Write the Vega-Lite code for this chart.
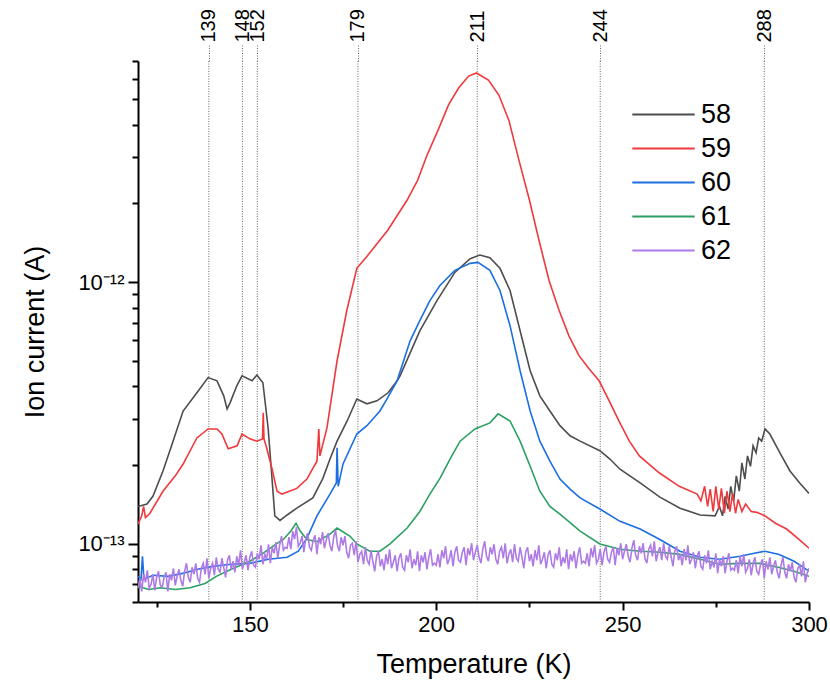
{
"$schema": "https://vega.github.io/schema/vega-lite/v6.json",
"width": 671, "height": 541,
"autosize": {"type": "none"},
"padding": {"left": 138, "top": 61, "right": 21, "bottom": 86},
"config": {"view": {"stroke": null}, "font": "Liberation Sans", "axis": {"ticks": true}},
"datasets": {
"peaks": [{"T":139},{"T":148},{"T":152},{"T":179},{"T":211},{"T":244},{"T":288}],
"ms": [
{"s":"58","T":120,"I":1.39e-13},{"s":"58","T":122.4,"I":1.42e-13},{"s":"58","T":124,"I":1.52e-13},{"s":"58","T":126.7,"I":1.90e-13},{"s":"58","T":129,"I":2.37e-13},{"s":"58","T":132.1,"I":3.22e-13},{"s":"58","T":135.8,"I":3.78e-13},{"s":"58","T":138.8,"I":4.32e-13},{"s":"58","T":141.2,"I":4.20e-13},{"s":"58","T":143,"I":3.68e-13},{"s":"58","T":143.9,"I":3.28e-13},{"s":"58","T":144.7,"I":3.46e-13},{"s":"58","T":146.5,"I":4.02e-13},{"s":"58","T":147.9,"I":4.39e-13},{"s":"58","T":150.6,"I":4.20e-13},{"s":"58","T":151.9,"I":4.42e-13},{"s":"58","T":153.5,"I":4.13e-13},{"s":"58","T":154.9,"I":2.78e-13},{"s":"58","T":156,"I":1.74e-13},{"s":"58","T":156.7,"I":1.28e-13},{"s":"58","T":158.1,"I":1.23e-13},{"s":"58","T":160,"I":1.29e-13},{"s":"58","T":162.6,"I":1.37e-13},{"s":"58","T":166.9,"I":1.50e-13},{"s":"58","T":169.6,"I":1.78e-13},{"s":"58","T":171.5,"I":2.11e-13},{"s":"58","T":173.4,"I":2.47e-13},{"s":"58","T":176.1,"I":2.95e-13},{"s":"58","T":178.7,"I":3.58e-13},{"s":"58","T":181.4,"I":3.43e-13},{"s":"58","T":184.1,"I":3.52e-13},{"s":"58","T":187.1,"I":3.78e-13},{"s":"58","T":189.5,"I":4.20e-13},{"s":"58","T":190.3,"I":4.39e-13},{"s":"58","T":195.6,"I":6.52e-13},{"s":"58","T":200.2,"I":8.50e-13},{"s":"58","T":205,"I":1.09e-12},{"s":"58","T":209.1,"I":1.23e-12},{"s":"58","T":211.7,"I":1.27e-12},{"s":"58","T":214.4,"I":1.24e-12},{"s":"58","T":217.1,"I":1.13e-12},{"s":"58","T":219.8,"I":9.30e-13},{"s":"58","T":222.5,"I":6.52e-13},{"s":"58","T":225.2,"I":4.59e-13},{"s":"58","T":227.8,"I":3.68e-13},{"s":"58","T":230.5,"I":3.22e-13},{"s":"58","T":233.2,"I":2.83e-13},{"s":"58","T":235.9,"I":2.59e-13},{"s":"58","T":238.6,"I":2.47e-13},{"s":"58","T":243.9,"I":2.27e-13},{"s":"58","T":246.6,"I":2.11e-13},{"s":"58","T":249.3,"I":1.93e-13},{"s":"58","T":254.7,"I":1.71e-13},{"s":"58","T":260,"I":1.51e-13},{"s":"58","T":265.4,"I":1.37e-13},{"s":"58","T":270.8,"I":1.29e-13},{"s":"58","T":274.8,"I":1.28e-13},{"s":"58","T":276,"I":1.39e-13},{"s":"58","T":276.8,"I":1.28e-13},{"s":"58","T":277.5,"I":1.52e-13},{"s":"58","T":278.3,"I":1.36e-13},{"s":"58","T":279,"I":1.66e-13},{"s":"58","T":279.8,"I":1.46e-13},{"s":"58","T":280.5,"I":1.82e-13},{"s":"58","T":281.3,"I":1.59e-13},{"s":"58","T":282,"I":2.04e-13},{"s":"58","T":282.8,"I":1.77e-13},{"s":"58","T":283.5,"I":2.17e-13},{"s":"58","T":284.3,"I":1.98e-13},{"s":"58","T":285,"I":2.37e-13},{"s":"58","T":285.8,"I":2.23e-13},{"s":"58","T":286.5,"I":2.54e-13},{"s":"58","T":287.3,"I":2.47e-13},{"s":"58","T":288.2,"I":2.75e-13},{"s":"58","T":289.5,"I":2.63e-13},{"s":"58","T":292.2,"I":2.23e-13},{"s":"58","T":294.9,"I":1.90e-13},{"s":"58","T":297.5,"I":1.71e-13},{"s":"58","T":300,"I":1.56e-13},
{"s":"59","T":120,"I":1.19e-13},{"s":"59","T":121,"I":1.28e-13},{"s":"59","T":121.5,"I":1.39e-13},{"s":"59","T":122,"I":1.26e-13},{"s":"59","T":123.2,"I":1.31e-13},{"s":"59","T":126.7,"I":1.59e-13},{"s":"59","T":130,"I":1.82e-13},{"s":"59","T":132.1,"I":2.02e-13},{"s":"59","T":135.8,"I":2.54e-13},{"s":"59","T":138.8,"I":2.75e-13},{"s":"59","T":141.2,"I":2.75e-13},{"s":"59","T":142.5,"I":2.63e-13},{"s":"59","T":144.2,"I":2.31e-13},{"s":"59","T":146.6,"I":2.37e-13},{"s":"59","T":147.9,"I":2.63e-13},{"s":"59","T":150,"I":2.52e-13},{"s":"59","T":151.9,"I":2.47e-13},{"s":"59","T":153.4,"I":2.52e-13},{"s":"59","T":153.6,"I":3.17e-13},{"s":"59","T":153.8,"I":2.52e-13},{"s":"59","T":154.5,"I":2.33e-13},{"s":"59","T":155.9,"I":1.95e-13},{"s":"59","T":157.3,"I":1.59e-13},{"s":"59","T":158.6,"I":1.55e-13},{"s":"59","T":162.6,"I":1.63e-13},{"s":"59","T":165.3,"I":1.77e-13},{"s":"59","T":168,"I":2.07e-13},{"s":"59","T":168.5,"I":2.75e-13},{"s":"59","T":168.8,"I":2.17e-13},{"s":"59","T":170.7,"I":2.78e-13},{"s":"59","T":173.4,"I":5.01e-13},{"s":"59","T":176,"I":7.78e-13},{"s":"59","T":178.7,"I":1.13e-12},{"s":"59","T":181.5,"I":1.26e-12},{"s":"59","T":187,"I":1.58e-12},{"s":"59","T":192.2,"I":2.06e-12},{"s":"59","T":195,"I":2.45e-12},{"s":"59","T":197.5,"I":3.05e-12},{"s":"59","T":200.5,"I":3.81e-12},{"s":"59","T":203.3,"I":4.76e-12},{"s":"59","T":206,"I":5.52e-12},{"s":"59","T":208.7,"I":6.13e-12},{"s":"59","T":210.8,"I":6.30e-12},{"s":"59","T":214,"I":5.92e-12},{"s":"59","T":216.8,"I":5.19e-12},{"s":"59","T":219.5,"I":4.15e-12},{"s":"59","T":222.2,"I":2.92e-12},{"s":"59","T":225,"I":2.06e-12},{"s":"59","T":227.6,"I":1.44e-12},{"s":"59","T":230.3,"I":1.01e-12},{"s":"59","T":233,"I":7.78e-13},{"s":"59","T":235.6,"I":6.24e-13},{"s":"59","T":238.3,"I":5.24e-13},{"s":"59","T":241,"I":4.67e-13},{"s":"59","T":243.7,"I":4.20e-13},{"s":"59","T":246.4,"I":3.52e-13},{"s":"59","T":249,"I":2.95e-13},{"s":"59","T":251.8,"I":2.47e-13},{"s":"59","T":254.5,"I":2.17e-13},{"s":"59","T":259.8,"I":1.87e-13},{"s":"59","T":265.2,"I":1.66e-13},{"s":"59","T":270,"I":1.55e-13},{"s":"59","T":271,"I":1.46e-13},{"s":"59","T":272,"I":1.66e-13},{"s":"59","T":272.8,"I":1.39e-13},{"s":"59","T":273.5,"I":1.62e-13},{"s":"59","T":274.3,"I":1.33e-13},{"s":"59","T":275,"I":1.66e-13},{"s":"59","T":275.8,"I":1.36e-13},{"s":"59","T":276.5,"I":1.63e-13},{"s":"59","T":277.3,"I":1.31e-13},{"s":"59","T":278,"I":1.59e-13},{"s":"59","T":278.8,"I":1.33e-13},{"s":"59","T":279.5,"I":1.56e-13},{"s":"59","T":280.3,"I":1.31e-13},{"s":"59","T":281,"I":1.48e-13},{"s":"59","T":282,"I":1.33e-13},{"s":"59","T":283,"I":1.42e-13},{"s":"59","T":284.5,"I":1.33e-13},{"s":"59","T":286,"I":1.32e-13},{"s":"59","T":288.2,"I":1.28e-13},{"s":"59","T":291,"I":1.20e-13},{"s":"59","T":294,"I":1.14e-13},{"s":"59","T":297,"I":1.05e-13},{"s":"59","T":300,"I":9.63e-14},
{"s":"60","T":120,"I":7.52e-14},{"s":"60","T":120.8,"I":7.32e-14},{"s":"60","T":121.2,"I":8.97e-14},{"s":"60","T":121.6,"I":7.32e-14},{"s":"60","T":124,"I":7.59e-14},{"s":"60","T":128,"I":7.52e-14},{"s":"60","T":132,"I":7.72e-14},{"s":"60","T":136,"I":8.0e-14},{"s":"60","T":140,"I":8.21e-14},{"s":"60","T":145,"I":8.36e-14},{"s":"60","T":150,"I":8.43e-14},{"s":"60","T":155,"I":8.74e-14},{"s":"60","T":160,"I":8.9e-14},{"s":"60","T":163,"I":9.38e-14},{"s":"60","T":165.3,"I":1.05e-13},{"s":"60","T":168,"I":1.28e-13},{"s":"60","T":171.5,"I":1.55e-13},{"s":"60","T":173.2,"I":1.71e-13},{"s":"60","T":173.4,"I":2.33e-13},{"s":"60","T":173.7,"I":1.66e-13},{"s":"60","T":175,"I":2.02e-13},{"s":"60","T":178.7,"I":2.63e-13},{"s":"60","T":181.4,"I":2.83e-13},{"s":"60","T":184.9,"I":3.22e-13},{"s":"60","T":186.8,"I":3.58e-13},{"s":"60","T":189.5,"I":4.20e-13},{"s":"60","T":193,"I":5.97e-13},{"s":"60","T":195.6,"I":7.13e-13},{"s":"60","T":198.3,"I":8.50e-13},{"s":"60","T":201,"I":9.71e-13},{"s":"60","T":205,"I":1.11e-12},{"s":"60","T":209.1,"I":1.18e-12},{"s":"60","T":211.2,"I":1.19e-12},{"s":"60","T":214.4,"I":1.11e-12},{"s":"60","T":217.1,"I":9.30e-13},{"s":"60","T":219.8,"I":6.82e-13},{"s":"60","T":222.5,"I":4.59e-13},{"s":"60","T":225.2,"I":3.22e-13},{"s":"60","T":227.8,"I":2.47e-13},{"s":"60","T":230.5,"I":2.07e-13},{"s":"60","T":233.2,"I":1.77e-13},{"s":"60","T":235.9,"I":1.62e-13},{"s":"60","T":238.6,"I":1.50e-13},{"s":"60","T":243.9,"I":1.36e-13},{"s":"60","T":249.3,"I":1.22e-13},{"s":"60","T":254.7,"I":1.14e-13},{"s":"60","T":260,"I":1.04e-13},{"s":"60","T":265.4,"I":9.38e-14},{"s":"60","T":270.8,"I":8.90e-14},{"s":"60","T":276,"I":8.74e-14},{"s":"60","T":281.5,"I":8.97e-14},{"s":"60","T":285,"I":9.2e-14},{"s":"60","T":288.2,"I":9.38e-14},{"s":"60","T":292,"I":9.12e-14},{"s":"60","T":296,"I":8.59e-14},{"s":"60","T":300,"I":7.87e-14},
{"s":"61","T":120,"I":6.88e-14},{"s":"61","T":123,"I":6.70e-14},{"s":"61","T":126,"I":6.8e-14},{"s":"61","T":130,"I":6.7e-14},{"s":"61","T":134,"I":6.8e-14},{"s":"61","T":138,"I":7.06e-14},{"s":"61","T":141,"I":7.52e-14},{"s":"61","T":145,"I":8.0e-14},{"s":"61","T":150,"I":8.59e-14},{"s":"61","T":153.5,"I":9.2e-14},{"s":"61","T":155,"I":9.54e-14},{"s":"61","T":157,"I":9.98e-14},{"s":"61","T":159,"I":1.04e-13},{"s":"61","T":161,"I":1.12e-13},{"s":"61","T":162.4,"I":1.20e-13},{"s":"61","T":163.5,"I":1.12e-13},{"s":"61","T":165.3,"I":1.04e-13},{"s":"61","T":168,"I":1.02e-13},{"s":"61","T":171.5,"I":1.09e-13},{"s":"61","T":173.4,"I":1.15e-13},{"s":"61","T":176.9,"I":1.07e-13},{"s":"61","T":178.7,"I":1.0e-13},{"s":"61","T":182.2,"I":9.38e-14},{"s":"61","T":184.9,"I":9.38e-14},{"s":"61","T":187.6,"I":1.0e-13},{"s":"61","T":192.2,"I":1.15e-13},{"s":"61","T":195.6,"I":1.33e-13},{"s":"61","T":198.3,"I":1.55e-13},{"s":"61","T":201,"I":1.78e-13},{"s":"61","T":203.7,"I":2.11e-13},{"s":"61","T":206.4,"I":2.47e-13},{"s":"61","T":210.4,"I":2.75e-13},{"s":"61","T":214.4,"I":2.90e-13},{"s":"61","T":216.6,"I":3.14e-13},{"s":"61","T":219.8,"I":2.95e-13},{"s":"61","T":222.5,"I":2.47e-13},{"s":"61","T":225.2,"I":1.98e-13},{"s":"61","T":227.8,"I":1.59e-13},{"s":"61","T":230.5,"I":1.39e-13},{"s":"61","T":233.2,"I":1.30e-13},{"s":"61","T":238.6,"I":1.12e-13},{"s":"61","T":243.9,"I":1.0e-13},{"s":"61","T":249.3,"I":9.54e-14},{"s":"61","T":254.7,"I":9.38e-14},{"s":"61","T":260,"I":9.3e-14},{"s":"61","T":265.4,"I":9.12e-14},{"s":"61","T":270.8,"I":8.74e-14},{"s":"61","T":276,"I":8.36e-14},{"s":"61","T":281.5,"I":8.43e-14},{"s":"61","T":286.8,"I":8.43e-14},{"s":"61","T":292,"I":8.13e-14},{"s":"61","T":296,"I":7.87e-14},{"s":"61","T":300,"I":7.52e-14},
{"s":"62","T":120,"I":6.768e-14},{"s":"62","T":120.5,"I":7.392e-14},{"s":"62","T":121,"I":6.592e-14},{"s":"62","T":121.5,"I":7.657e-14},{"s":"62","T":122,"I":7.136e-14},{"s":"62","T":122.5,"I":7.932e-14},{"s":"62","T":123,"I":6.768e-14},{"s":"62","T":123.5,"I":7.011e-14},{"s":"62","T":124,"I":7.657e-14},{"s":"62","T":124.5,"I":6.650e-14},{"s":"62","T":125,"I":7.457e-14},{"s":"62","T":125.5,"I":7.862e-14},{"s":"62","T":126,"I":6.950e-14},{"s":"62","T":126.5,"I":6.828e-14},{"s":"62","T":127,"I":7.457e-14},{"s":"62","T":127.5,"I":7.793e-14},{"s":"62","T":128,"I":6.592e-14},{"s":"62","T":128.5,"I":7.657e-14},{"s":"62","T":129,"I":7.263e-14},{"s":"62","T":129.5,"I":8.073e-14},
{"s":"62","T":130,"I":6.950e-14},{"s":"62","T":130.5,"I":7.523e-14},{"s":"62","T":131,"I":8.002e-14},{"s":"62","T":131.5,"I":7.263e-14},{"s":"62","T":132,"I":6.889e-14},{"s":"62","T":132.5,"I":7.862e-14},{"s":"62","T":133,"I":8.436e-14},{"s":"62","T":133.5,"I":7.457e-14},{"s":"62","T":134,"I":7.136e-14},{"s":"62","T":134.5,"I":8.144e-14},{"s":"62","T":135,"I":7.657e-14},{"s":"62","T":135.5,"I":8.436e-14},{"s":"62","T":136,"I":7.392e-14},{"s":"62","T":136.5,"I":7.136e-14},{"s":"62","T":137,"I":8.073e-14},{"s":"62","T":137.5,"I":8.436e-14},{"s":"62","T":138,"I":7.657e-14},{"s":"62","T":138.5,"I":8.816e-14},{"s":"62","T":139,"I":7.392e-14},{"s":"62","T":139.5,"I":8.073e-14},
{"s":"62","T":140,"I":8.436e-14},{"s":"62","T":140.5,"I":7.590e-14},{"s":"62","T":141,"I":8.894e-14},{"s":"62","T":141.5,"I":8.002e-14},{"s":"62","T":142,"I":7.793e-14},{"s":"62","T":142.5,"I":8.816e-14},{"s":"62","T":143,"I":8.144e-14},{"s":"62","T":143.5,"I":7.457e-14},{"s":"62","T":144,"I":8.662e-14},{"s":"62","T":144.5,"I":9.053e-14},{"s":"62","T":145,"I":8.002e-14},{"s":"62","T":145.5,"I":8.586e-14},{"s":"62","T":146,"I":7.793e-14},{"s":"62","T":146.5,"I":8.973e-14},{"s":"62","T":147,"I":8.289e-14},{"s":"62","T":147.5,"I":9.460e-14},{"s":"62","T":148,"I":8.002e-14},{"s":"62","T":148.5,"I":8.511e-14},{"s":"62","T":149,"I":9.053e-14},{"s":"62","T":149.5,"I":7.932e-14},
{"s":"62","T":150,"I":8.894e-14},{"s":"62","T":150.5,"I":9.377e-14},{"s":"62","T":151,"I":8.289e-14},{"s":"62","T":151.5,"I":8.144e-14},{"s":"62","T":152,"I":9.214e-14},{"s":"62","T":152.5,"I":8.739e-14},{"s":"62","T":153,"I":9.886e-14},{"s":"62","T":153.5,"I":8.362e-14},{"s":"62","T":154,"I":9.133e-14},{"s":"62","T":154.5,"I":8.739e-14},{"s":"62","T":155,"I":9.974e-14},{"s":"62","T":155.5,"I":8.436e-14},{"s":"62","T":156,"I":9.714e-14},{"s":"62","T":156.5,"I":9.214e-14},{"s":"62","T":157,"I":1.0151e-13},{"s":"62","T":157.5,"I":8.816e-14},{"s":"62","T":158,"I":9.886e-14},{"s":"62","T":158.5,"I":1.0703e-13},{"s":"62","T":159,"I":9.460e-14},{"s":"62","T":159.5,"I":9.714e-14},
{"s":"62","T":160,"I":9.629e-14},{"s":"62","T":160.5,"I":1.0609e-13},{"s":"62","T":161,"I":9.544e-14},{"s":"62","T":161.5,"I":1.1185e-13},{"s":"62","T":162,"I":1.0424e-13},{"s":"62","T":162.5,"I":1.1588e-13},{"s":"62","T":163,"I":9.799e-14},{"s":"62","T":163.5,"I":1.0062e-13},{"s":"62","T":164,"I":1.0703e-13},{"s":"62","T":164.5,"I":9.295e-14},{"s":"62","T":165,"I":1.0424e-13},{"s":"62","T":165.5,"I":1.0990e-13},{"s":"62","T":166,"I":9.714e-14},{"s":"62","T":166.5,"I":9.460e-14},{"s":"62","T":167,"I":1.0332e-13},{"s":"62","T":167.5,"I":1.0798e-13},{"s":"62","T":168,"I":9.133e-14},{"s":"62","T":168.5,"I":1.0609e-13},{"s":"62","T":169,"I":9.974e-14},{"s":"62","T":169.5,"I":1.1087e-13},
{"s":"62","T":170,"I":9.629e-14},{"s":"62","T":170.5,"I":1.0332e-13},{"s":"62","T":171,"I":1.0990e-13},{"s":"62","T":171.5,"I":9.886e-14},{"s":"62","T":172,"I":9.377e-14},{"s":"62","T":172.5,"I":1.0609e-13},{"s":"62","T":173,"I":1.1284e-13},{"s":"62","T":173.5,"I":9.886e-14},{"s":"62","T":174,"I":9.377e-14},{"s":"62","T":174.5,"I":1.0609e-13},{"s":"62","T":175,"I":9.886e-14},{"s":"62","T":175.5,"I":1.0703e-13},{"s":"62","T":176,"I":9.295e-14},{"s":"62","T":176.5,"I":8.816e-14},{"s":"62","T":177,"I":9.886e-14},{"s":"62","T":177.5,"I":1.0062e-13},{"s":"62","T":178,"I":9.053e-14},{"s":"62","T":178.5,"I":1.0241e-13},{"s":"62","T":179,"I":8.511e-14},{"s":"62","T":179.5,"I":9.133e-14},
{"s":"62","T":180,"I":9.377e-14},{"s":"62","T":180.5,"I":8.362e-14},{"s":"62","T":181,"I":9.714e-14},{"s":"62","T":181.5,"I":8.662e-14},{"s":"62","T":182,"I":8.362e-14},{"s":"62","T":182.5,"I":9.460e-14},{"s":"62","T":183,"I":8.586e-14},{"s":"62","T":183.5,"I":7.862e-14},{"s":"62","T":184,"I":8.973e-14},{"s":"62","T":184.5,"I":9.377e-14},{"s":"62","T":185,"I":8.216e-14},{"s":"62","T":185.5,"I":8.739e-14},{"s":"62","T":186,"I":7.932e-14},{"s":"62","T":186.5,"I":9.133e-14},{"s":"62","T":187,"I":8.362e-14},{"s":"62","T":187.5,"I":9.544e-14},{"s":"62","T":188,"I":8.073e-14},{"s":"62","T":188.5,"I":8.511e-14},{"s":"62","T":189,"I":9.053e-14},{"s":"62","T":189.5,"I":7.862e-14},
{"s":"62","T":190,"I":8.816e-14},{"s":"62","T":190.5,"I":9.214e-14},{"s":"62","T":191,"I":8.144e-14},{"s":"62","T":191.5,"I":7.932e-14},{"s":"62","T":192,"I":9.053e-14},{"s":"62","T":192.5,"I":8.511e-14},{"s":"62","T":193,"I":9.544e-14},{"s":"62","T":193.5,"I":8.073e-14},{"s":"62","T":194,"I":8.739e-14},{"s":"62","T":194.5,"I":8.289e-14},{"s":"62","T":195,"I":9.377e-14},{"s":"62","T":195.5,"I":7.862e-14},{"s":"62","T":196,"I":9.053e-14},{"s":"62","T":196.5,"I":8.511e-14},{"s":"62","T":197,"I":9.295e-14},{"s":"62","T":197.5,"I":8.002e-14},{"s":"62","T":198,"I":8.894e-14},{"s":"62","T":198.5,"I":9.544e-14},{"s":"62","T":199,"I":8.289e-14},{"s":"62","T":199.5,"I":8.436e-14},
{"s":"62","T":200,"I":8.289e-14},{"s":"62","T":200.5,"I":9.133e-14},{"s":"62","T":201,"I":8.144e-14},{"s":"62","T":201.5,"I":9.460e-14},{"s":"62","T":202,"I":8.816e-14},{"s":"62","T":202.5,"I":9.799e-14},{"s":"62","T":203,"I":8.362e-14},{"s":"62","T":203.5,"I":8.739e-14},{"s":"62","T":204,"I":9.460e-14},{"s":"62","T":204.5,"I":8.216e-14},{"s":"62","T":205,"I":9.295e-14},{"s":"62","T":205.5,"I":9.799e-14},{"s":"62","T":206,"I":8.662e-14},{"s":"62","T":206.5,"I":8.511e-14},{"s":"62","T":207,"I":9.295e-14},{"s":"62","T":207.5,"I":9.714e-14},{"s":"62","T":208,"I":8.289e-14},{"s":"62","T":208.5,"I":9.629e-14},{"s":"62","T":209,"I":9.053e-14},{"s":"62","T":209.5,"I":1.0062e-13},
{"s":"62","T":210,"I":8.662e-14},{"s":"62","T":210.5,"I":9.295e-14},{"s":"62","T":211,"I":9.886e-14},{"s":"62","T":211.5,"I":8.894e-14},{"s":"62","T":212,"I":8.436e-14},{"s":"62","T":212.5,"I":9.544e-14},{"s":"62","T":213,"I":1.0241e-13},{"s":"62","T":213.5,"I":8.973e-14},{"s":"62","T":214,"I":8.586e-14},{"s":"62","T":214.5,"I":9.714e-14},{"s":"62","T":215,"I":9.133e-14},{"s":"62","T":215.5,"I":9.974e-14},{"s":"62","T":216,"I":8.739e-14},{"s":"62","T":216.5,"I":8.362e-14},{"s":"62","T":217,"I":9.377e-14},{"s":"62","T":217.5,"I":9.714e-14},{"s":"62","T":218,"I":8.816e-14},{"s":"62","T":218.5,"I":1.0062e-13},{"s":"62","T":219,"I":8.436e-14},{"s":"62","T":219.5,"I":9.133e-14},
{"s":"62","T":220,"I":9.544e-14},{"s":"62","T":220.5,"I":8.511e-14},{"s":"62","T":221,"I":9.974e-14},{"s":"62","T":221.5,"I":8.816e-14},{"s":"62","T":222,"I":8.586e-14},{"s":"62","T":222.5,"I":9.714e-14},{"s":"62","T":223,"I":8.894e-14},{"s":"62","T":223.5,"I":8.073e-14},{"s":"62","T":224,"I":9.295e-14},{"s":"62","T":224.5,"I":9.714e-14},{"s":"62","T":225,"I":8.586e-14},{"s":"62","T":225.5,"I":9.133e-14},{"s":"62","T":226,"I":8.216e-14},{"s":"62","T":226.5,"I":9.460e-14},{"s":"62","T":227,"I":8.662e-14},{"s":"62","T":227.5,"I":9.886e-14},{"s":"62","T":228,"I":8.362e-14},{"s":"62","T":228.5,"I":8.739e-14},{"s":"62","T":229,"I":9.295e-14},{"s":"62","T":229.5,"I":8.073e-14},
{"s":"62","T":230,"I":9.053e-14},{"s":"62","T":230.5,"I":9.460e-14},{"s":"62","T":231,"I":8.362e-14},{"s":"62","T":231.5,"I":8.144e-14},{"s":"62","T":232,"I":9.214e-14},{"s":"62","T":232.5,"I":8.662e-14},{"s":"62","T":233,"I":9.714e-14},{"s":"62","T":233.5,"I":8.216e-14},{"s":"62","T":234,"I":8.894e-14},{"s":"62","T":234.5,"I":8.436e-14},{"s":"62","T":235,"I":9.544e-14},{"s":"62","T":235.5,"I":8.002e-14},{"s":"62","T":236,"I":9.133e-14},{"s":"62","T":236.5,"I":8.586e-14},{"s":"62","T":237,"I":9.377e-14},{"s":"62","T":237.5,"I":8.073e-14},{"s":"62","T":238,"I":9.053e-14},{"s":"62","T":238.5,"I":9.714e-14},{"s":"62","T":239,"I":8.436e-14},{"s":"62","T":239.5,"I":8.586e-14},
{"s":"62","T":240,"I":8.436e-14},{"s":"62","T":240.5,"I":9.214e-14},{"s":"62","T":241,"I":8.216e-14},{"s":"62","T":241.5,"I":9.629e-14},{"s":"62","T":242,"I":8.894e-14},{"s":"62","T":242.5,"I":9.886e-14},{"s":"62","T":243,"I":8.436e-14},{"s":"62","T":243.5,"I":8.739e-14},{"s":"62","T":244,"I":9.544e-14},{"s":"62","T":244.5,"I":8.289e-14},{"s":"62","T":245,"I":9.295e-14},{"s":"62","T":245.5,"I":9.799e-14},{"s":"62","T":246,"I":8.739e-14},{"s":"62","T":246.5,"I":8.511e-14},{"s":"62","T":247,"I":9.295e-14},{"s":"62","T":247.5,"I":9.714e-14},{"s":"62","T":248,"I":8.289e-14},{"s":"62","T":248.5,"I":9.629e-14},{"s":"62","T":249,"I":9.053e-14},{"s":"62","T":249.5,"I":1.0062e-13},
{"s":"62","T":250,"I":8.739e-14},{"s":"62","T":250.5,"I":9.377e-14},{"s":"62","T":251,"I":9.974e-14},{"s":"62","T":251.5,"I":8.973e-14},{"s":"62","T":252,"I":8.511e-14},{"s":"62","T":252.5,"I":9.629e-14},{"s":"62","T":253,"I":1.0332e-13},{"s":"62","T":253.5,"I":9.053e-14},{"s":"62","T":254,"I":8.662e-14},{"s":"62","T":254.5,"I":9.799e-14},{"s":"62","T":255,"I":9.214e-14},{"s":"62","T":255.5,"I":1.0062e-13},{"s":"62","T":256,"I":8.816e-14},{"s":"62","T":256.5,"I":8.436e-14},{"s":"62","T":257,"I":9.544e-14},{"s":"62","T":257.5,"I":9.886e-14},{"s":"62","T":258,"I":8.973e-14},{"s":"62","T":258.5,"I":1.0241e-13},{"s":"62","T":259,"I":8.586e-14},{"s":"62","T":259.5,"I":9.295e-14},
{"s":"62","T":260,"I":9.714e-14},{"s":"62","T":260.5,"I":8.662e-14},{"s":"62","T":261,"I":1.0062e-13},{"s":"62","T":261.5,"I":8.973e-14},{"s":"62","T":262,"I":8.739e-14},{"s":"62","T":262.5,"I":9.799e-14},{"s":"62","T":263,"I":8.973e-14},{"s":"62","T":263.5,"I":8.216e-14},{"s":"62","T":264,"I":9.377e-14},{"s":"62","T":264.5,"I":9.799e-14},{"s":"62","T":265,"I":8.662e-14},{"s":"62","T":265.5,"I":9.133e-14},{"s":"62","T":266,"I":8.289e-14},{"s":"62","T":266.5,"I":9.544e-14},{"s":"62","T":267,"I":8.662e-14},{"s":"62","T":267.5,"I":9.886e-14},{"s":"62","T":268,"I":8.362e-14},{"s":"62","T":268.5,"I":8.739e-14},{"s":"62","T":269,"I":9.295e-14},{"s":"62","T":269.5,"I":8.073e-14},
{"s":"62","T":270,"I":8.973e-14},{"s":"62","T":270.5,"I":9.377e-14},{"s":"62","T":271,"I":8.216e-14},{"s":"62","T":271.5,"I":8.002e-14},{"s":"62","T":272,"I":9.053e-14},{"s":"62","T":272.5,"I":8.436e-14},{"s":"62","T":273,"I":9.460e-14},{"s":"62","T":273.5,"I":8.002e-14},{"s":"62","T":274,"I":8.586e-14},{"s":"62","T":274.5,"I":8.144e-14},{"s":"62","T":275,"I":9.214e-14},{"s":"62","T":275.5,"I":7.725e-14},{"s":"62","T":276,"I":8.739e-14},{"s":"62","T":276.5,"I":8.216e-14},{"s":"62","T":277,"I":8.973e-14},{"s":"62","T":277.5,"I":7.725e-14},{"s":"62","T":278,"I":8.586e-14},{"s":"62","T":278.5,"I":9.214e-14},{"s":"62","T":279,"I":7.932e-14},{"s":"62","T":279.5,"I":8.073e-14},
{"s":"62","T":280,"I":7.932e-14},{"s":"62","T":280.5,"I":8.662e-14},{"s":"62","T":281,"I":7.725e-14},{"s":"62","T":281.5,"I":8.973e-14},{"s":"62","T":282,"I":8.216e-14},{"s":"62","T":282.5,"I":9.133e-14},{"s":"62","T":283,"I":7.793e-14},{"s":"62","T":283.5,"I":8.073e-14},{"s":"62","T":284,"I":8.739e-14},{"s":"62","T":284.5,"I":7.590e-14},{"s":"62","T":285,"I":8.436e-14},{"s":"62","T":285.5,"I":8.894e-14},{"s":"62","T":286,"I":7.862e-14},{"s":"62","T":286.5,"I":7.657e-14},{"s":"62","T":287,"I":8.362e-14},{"s":"62","T":287.5,"I":8.739e-14},{"s":"62","T":288,"I":7.392e-14},{"s":"62","T":288.5,"I":8.586e-14},{"s":"62","T":289,"I":8.002e-14},{"s":"62","T":289.5,"I":8.894e-14},
{"s":"62","T":290,"I":7.657e-14},{"s":"62","T":290.5,"I":8.216e-14},{"s":"62","T":291,"I":8.662e-14},{"s":"62","T":291.5,"I":7.793e-14},{"s":"62","T":292,"I":7.392e-14},{"s":"62","T":292.5,"I":8.289e-14},{"s":"62","T":293,"I":8.894e-14},{"s":"62","T":293.5,"I":7.793e-14},{"s":"62","T":294,"I":7.392e-14},{"s":"62","T":294.5,"I":8.362e-14},{"s":"62","T":295,"I":7.862e-14},{"s":"62","T":295.5,"I":8.511e-14},{"s":"62","T":296,"I":7.457e-14},{"s":"62","T":296.5,"I":7.136e-14},{"s":"62","T":297,"I":8.073e-14},{"s":"62","T":297.5,"I":8.289e-14},{"s":"62","T":298,"I":7.523e-14},{"s":"62","T":298.5,"I":8.586e-14},{"s":"62","T":299,"I":7.136e-14},{"s":"62","T":299.5,"I":7.725e-14},{"s":"62","T":300,"I":8.073e-14}
]},
"layer": [
{"data": {"name": "peaks"},
 "mark": {"type": "rule", "strokeDash": [1, 1.5], "color": "#666666", "strokeWidth": 1},
 "encoding": {
  "x": {"field": "T", "type": "quantitative", "scale": {"domain": [120, 300], "nice": false, "zero": false},
   "axis": {"orient": "top", "values": [139,148,152,179,211,244,288], "domain": false, "ticks": true, "tickSize": 17, "tickDash": [1,1.5], "tickColor": "#666666", "tickWidth": 1,
    "labelAngle": -90, "labelAlign": "left", "labelBaseline": "middle", "labelFontSize": 20, "labelPadding": 2, "labelColor": "black", "labelFlush": false, "labelOverlap": false, "title": null, "grid": false}}
 }},
{"data": {"name": "ms"},
 "mark": {"type": "point", "opacity": 0},
 "encoding": {
  "x": {"field": "T", "type": "quantitative",
   "axis": {"orient": "bottom", "values": [125,175,225,275], "labels": false, "domain": false, "ticks": true, "tickSize": 5, "tickColor": "#000000", "tickWidth": 2, "tickDash": [], "tickOpacity": 1, "title": null, "grid": false}},
  "y": {"field": "I", "type": "quantitative",
   "axis": {"orient": "left", "values": [6e-14,7e-14,8e-14,9e-14,2e-13,3e-13,4e-13,5e-13,6e-13,7e-13,8e-13,9e-13,2e-12,3e-12,4e-12,5e-12,6e-12,7e-12], "labels": false, "domain": false, "ticks": true, "tickSize": 6, "tickColor": "#000000", "tickWidth": 2, "tickDash": [], "tickOpacity": 1, "title": null, "grid": false}}
 }},
{"data": {"name": "ms"},
 "mark": {"type": "line", "strokeWidth": 1.6, "clip": true},
 "encoding": {
  "x": {"field": "T", "type": "quantitative",
   "axis": {"orient": "bottom", "values": [150,200,250,300], "ticks": true, "tickSize": 8, "tickOpacity": 1, "tickDash": [],
    "domainColor": "#000000", "tickColor": "#000000", "domainWidth": 2, "tickWidth": 2,
    "labelFontSize": 22, "labelColor": "black", "labelPadding": 4, "labelFlush": false, "labelOverlap": false,
    "title": "Temperature (K)", "titleFontSize": 27, "titleFontWeight": "normal", "titleColor": "black", "titlePadding": 16, "grid": false}},
  "y": {"field": "I", "type": "quantitative",
   "scale": {"type": "log", "domain": [6e-14, 7e-12], "nice": false},
   "axis": {"orient": "left", "values": [1e-13, 1e-12],
    "labelExpr": "datum.value < 5e-13 ? '10⁻¹³' : '10⁻¹²'",
    "ticks": true, "tickSize": 10, "tickOpacity": 1, "tickDash": [],
    "domainColor": "#000000", "tickColor": "#000000", "domainWidth": 2, "tickWidth": 2,
    "labelFontSize": 22, "labelColor": "black", "labelPadding": 4, "labelFlush": false, "labelOverlap": false,
    "title": "Ion current (A)", "titleFontSize": 27, "titleFontWeight": "normal", "titleColor": "black", "titlePadding": 28, "grid": false}},
  "color": {"field": "s", "type": "nominal",
   "scale": {"domain": ["58","59","60","61","62"], "range": ["#4d4d4d","#f0393c","#1c6fe0","#2ba062","#ae7be6"]},
   "legend": {"orient": "none", "legendX": 505, "legendY": 33, "title": null, "symbolType": "M-1.6,0H1.6", "symbolSize": 1521, "symbolStrokeWidth": 2, "symbolFillColor": "transparent", "labelFontSize": 27, "labelColor": "black", "rowPadding": 0, "labelOffset": 17, "padding": 0}}
 }}
],
"resolve": {"axis": {"x": "independent", "y": "independent"}}
}
